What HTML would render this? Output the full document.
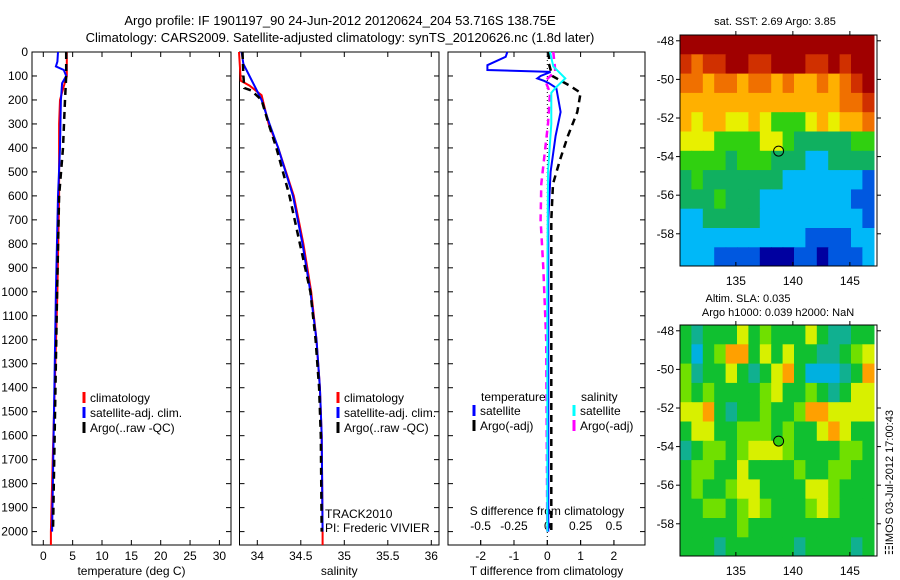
<!DOCTYPE html>
<html><head><meta charset="utf-8"><style>
html,body{margin:0;padding:0;background:#fff;width:900px;height:580px;overflow:hidden}
svg{display:block;font-family:"Liberation Sans",sans-serif;}
text{font-size:12px;fill:#000}
</style></head><body>
<svg id="c" width="900" height="580" viewBox="0 0 900 580">
<text x="340" y="25" text-anchor="middle" style="font-size:13px">Argo profile: IF 1901197_90 24-Jun-2012 20120624_204 53.716S 138.75E</text>
<text x="340" y="42" text-anchor="middle" style="font-size:13px">Climatology: CARS2009. Satellite-adjusted climatology: synTS_20120626.nc (1.8d later)</text>
<g id="g"></g>
</svg>
<script>
// ---- data ----
const depthTicks=[0,100,200,300,400,500,600,700,800,900,1000,1100,1200,1300,1400,1500,1600,1700,1800,1900,2000];
const tTicks=[0,5,10,15,20,25,30];
const sTicks=[34,34.5,35,35.5,36];
const dTTicks=[-2,-1,0,1,2];
const dSTicks=[-0.5,-0.25,0,0.25,0.5];
const dSTickLabels=["-0.5","-0.25","0","0.25","0.5"];

const tArgoDepth=[0,100,200,400,600,1000,2000];
const tArgo=[3.9,3.9,3.7,3.35,2.7,2.35,1.65];
const tClimDepth=[0,100,150,200,300,600,1000,1700,2000,2056];
const tClim=[4.0,4.0,3.4,2.85,2.7,2.7,2.4,1.6,1.3,1.3];
const tSatDepth=[0,40,60,75,100,130,200,400,600,1000,2000];
const tSat=[2.5,2.4,2.15,3.5,3.9,3.2,3.0,2.85,2.5,2.15,1.5];

const sArgoDepth=[0,100,150,160,200,300,400,600,800,1000,1200,1400,1600,2000];
const sArgo=[33.83,33.84,33.85,33.93,34.05,34.13,34.22,34.37,34.49,34.61,34.67,34.71,34.73,34.74];
const sClimDepth=[0,120,140,180,300,400,600,800,1000,1200,1400,1600,2000,2056];
const sClim=[33.79,33.81,33.91,34.05,34.13,34.24,34.42,34.53,34.62,34.68,34.72,34.74,34.75,34.75];
const sSatDepth=[0,50,100,150,200,300,400,600,800,1000,1200,1400,1600,2000];
const sSat=[33.82,33.84,33.91,33.98,34.05,34.14,34.24,34.41,34.52,34.61,34.68,34.72,34.74,34.75];

const dTSatDepth=[0,20,55,75,83,100,110,120,130,150,250,350,500,700,2000];
const dTSat=[-1.2,-1.25,-1.8,-1.8,0.1,-0.2,-0.3,-0.1,0.05,0.27,0.4,0.25,0.1,0.03,0.03];
const dTArgoDepth=[0,50,100,140,170,250,350,450,550,700,2000];
const dTArgo=[0.05,0.05,0.15,0.67,1.0,0.9,0.62,0.38,0.17,0.12,0.12];
const dSSatDepth=[0,60,110,150,170,300,500,1000,2000];
const dSSat=[0.02,0.045,0.135,0.06,0.03,0.03,0.005,0,0];
const dSArgoDepth=[0,80,120,170,300,400,550,700,900,1200,2000];
const dSArgo=[0.045,0.06,-0.015,0.02,0.005,-0.015,-0.045,-0.05,-0.03,-0.008,0];

const lonTicks=[135,140,145];
const latTicks=[-48,-50,-52,-54,-56,-58];
const gridLon0=130.1, gridLat0=-47.7;
const sstGrid=[
"99999999999999999",
"87889988999889899",
"77677677676676789",
"66666666666666778",
"65665565444565667",
"55544445543333344",
"44443444333223333",
"34333333322222221",
"33343332222222211",
"22333332222222221",
"22222222222111122",
"22211110001101112"];
const slaGrid=[
"21222423222421122",
"20235524242211234",
"31224212452000125",
"32322223422321244",
"44521223223554444",
"24422333232245422",
"12332344432222332",
"23322422223223322",
"23223442222443222",
"22332343222343222",
"22222322222222222",
"22212222221222212"];
const argoLon=138.75, argoLat=-53.716;

// ---- helpers ----
const NS="http://www.w3.org/2000/svg";
const G=document.getElementById('g');
function el(tag,attrs,parent){const e=document.createElementNS(NS,tag);for(const k in attrs)e.setAttribute(k,attrs[k]);(parent||G).appendChild(e);return e;}
const yD=d=>52+d*0.2398;
const PB=545;

function panel(x0,x1,xf,ticks,labels,xlabel,name){
  const r=el('rect',{x:x0,y:52,width:x1-x0,height:PB-52,fill:'none',stroke:'#000','stroke-width':1});
  
  
  depthTicks.forEach(d=>{
    el('line',{x1:x0,x2:x0+5,y1:yD(d),y2:yD(d),stroke:'#000'});
    el('line',{x1:x1-5,x2:x1,y1:yD(d),y2:yD(d),stroke:'#000'});
  });
  ticks.forEach((v,i)=>{
    const x=xf(v);
    el('line',{x1:x,x2:x,y1:PB,y2:PB-5,stroke:'#000'});
    el('line',{x1:x,x2:x,y1:52,y2:57,stroke:'#000'});
    const t=el('text',{x:x,y:PB+15,'text-anchor':'middle'});t.textContent=labels?labels[i]:v;
    
    
  });
  const t=el('text',{x:(x0+x1)/2,y:575,'text-anchor':'middle'});t.textContent=xlabel;
  
  
}
function line(xs,ds,xf,color,dash,w,name){
  const pts=xs.map((v,i)=>xf(v).toFixed(1)+','+yD(ds[i]).toFixed(1)).join(' ');
  const a={points:pts,fill:'none',stroke:color,'stroke-width':w||2};
  if(dash)a['stroke-dasharray']=dash;
  const p=el('polyline',a);
  
  
}
function legend(x,y,items,name){
  items.forEach((it,i)=>{
    el('line',{x1:x,x2:x,y1:y+i*15-10,y2:y+i*15+1,stroke:it[1],'stroke-width':3});
    const t=el('text',{x:x+6,y:y+i*15});t.textContent=it[0];
    
    
  });
}

depthTicks.forEach(d=>{const t=el('text',{x:28,y:yD(d)+4,'text-anchor':'end'});t.textContent=d;
  
  });

// panel 1
const xT=v=>43.3+v*5.87;
panel(32,231,xT,tTicks,null,'temperature (deg C)','temperature-panel');
line(tClim,tClimDepth,xT,'#f00',null,2,'temp-climatology-line');
line(tSat,tSatDepth,xT,'#00f',null,2,'temp-satellite-line');
line(tArgo,tArgoDepth,xT,'#000','7,5',2.5,'temp-argo-line');
legend(84,402,[['climatology','#f00'],['satellite-adj. clim.','#00f'],['Argo(..raw -QC)','#000']],'temp-legend');

// panel 2
const xS=v=>257.3+(v-34)*87;
panel(239.5,439,xS,sTicks,null,'salinity','salinity-panel');
line(sClim,sClimDepth,xS,'#f00',null,2,'sal-climatology-line');
line(sSat,sSatDepth,xS,'#00f',null,2,'sal-satellite-line');
line(sArgo,sArgoDepth,xS,'#000','7,5',2.5,'sal-argo-line');
legend(338,402,[['climatology','#f00'],['satellite-adj. clim.','#00f'],['Argo(..raw -QC)','#000']],'sal-legend');
let tt=el('text',{x:325,y:518});tt.textContent='TRACK2010';

tt=el('text',{x:325,y:532});tt.textContent='PI: Frederic VIVIER';


// panel 3
const xdT=v=>547.3+v*33.3;
const xdS=v=>547.3+v*133.3;
panel(448,645,xdT,dTTicks,null,'T difference from climatology','difference-panel');
dSTicks.forEach((v,i)=>{const x=xdS(v);el('line',{x1:x,x2:x,y1:PB,y2:PB-5,stroke:'#000'});
  const t=el('text',{x:x,y:530,'text-anchor':'middle'});t.textContent=dSTickLabels[i];
  });
tt=el('text',{x:547,y:515,'text-anchor':'middle'});tt.textContent='S difference from climatology';

el('line',{x1:xdT(0),x2:xdT(0),y1:52,y2:PB,stroke:'#000','stroke-dasharray':'1,3'});
line(dTArgo,dTArgoDepth,xdT,'#000','7,5',2.5,'t-diff-argo-line');
line(dSArgo,dSArgoDepth,xdS,'#f0f','7,5',2.5,'s-diff-argo-line');
line(dTSat,dTSatDepth,xdT,'#00f',null,2,'t-diff-satellite-line');
line(dSSat,dSSatDepth,xdS,'#0ff',null,2,'s-diff-satellite-line');
tt=el('text',{x:481,y:401});tt.textContent='temperature';

tt=el('text',{x:581,y:401});tt.textContent='salinity';

legend(474,415,[['satellite','#00f'],['Argo(-adj)','#000']],'t-diff-legend');
legend(574,415,[['satellite','#0ff'],['Argo(-adj)','#f0f']],'s-diff-legend');

// maps
const sstCol=['#0000a0','#0058e0','#00b8f8','#10b060','#30d010','#e8f000','#ffb000','#f07000','#d03000','#a00000'];
const slaCol=['#00b0e0','#10b090','#10c030','#70e000','#d8f000','#ffa000'];
function map(y0,grid,cols,name,dot){
  const x0=680,x1=877,y1=y0+231;
  const xL=lon=>x0+(lon-gridLon0)*11.4;
  const yL=lat=>y0+(gridLat0-lat)*19.3;
  const cw=11.6, ch=19.3;
  grid.forEach((row,r)=>{row.split('').forEach((c,k)=>{
    const x=xL(gridLon0+k), y=yL(gridLat0-r);
    const w=Math.min(cw+0.5,x1-x), h=Math.min(ch+0.5,y1-y);
    if(w>0&&h>0){const cell=el('rect',{x:x,y:y,width:w,height:h,fill:cols[+c]});
      
      }
  });});
  const fr=el('rect',{x:x0,y:y0,width:x1-x0,height:y1-y0,fill:'none',stroke:'#000'});
  
  lonTicks.forEach(v=>{const x=xL(v);el('line',{x1:x,x2:x,y1:y1,y2:y1-4,stroke:'#000'});el('line',{x1:x,x2:x,y1:y0,y2:y0-4,stroke:'#000'});
    const t=el('text',{x:x,y:y1+19,'text-anchor':'middle'});t.textContent=v;
    });
  latTicks.forEach(v=>{const y=yL(v);el('line',{x1:x0-4,x2:x0,y1:y,y2:y,stroke:'#000'});el('line',{x1:x1,x2:x1+4,y1:y,y2:y,stroke:'#000'});
    const t=el('text',{x:x0-6,y:y+4,'text-anchor':'end'});t.textContent=v;
    });
  const m=el('circle',{cx:xL(argoLon),cy:yL(argoLat),r:5,fill:dot,stroke:'#000'});
  
}
map(35,sstGrid,sstCol,'sst-map','none');
map(325,slaGrid,slaCol,'sla-map','#30d010');
tt=el('text',{x:775,y:25,'text-anchor':'middle',style:'font-size:11px'});tt.textContent='sat. SST: 2.69 Argo: 3.85';

tt=el('text',{x:748,y:302,'text-anchor':'middle',style:'font-size:11px'});tt.textContent='Altim. SLA: 0.035';

tt=el('text',{x:778,y:316,'text-anchor':'middle',style:'font-size:11px'});tt.textContent='Argo h1000: 0.039 h2000: NaN';

tt=el('text',{x:0,y:0,transform:'translate(893,555) rotate(-90)',style:'font-size:11px'});tt.textContent='\u2637IMOS 03-Jul-2012 17:00:43';

</script>
</body></html>
